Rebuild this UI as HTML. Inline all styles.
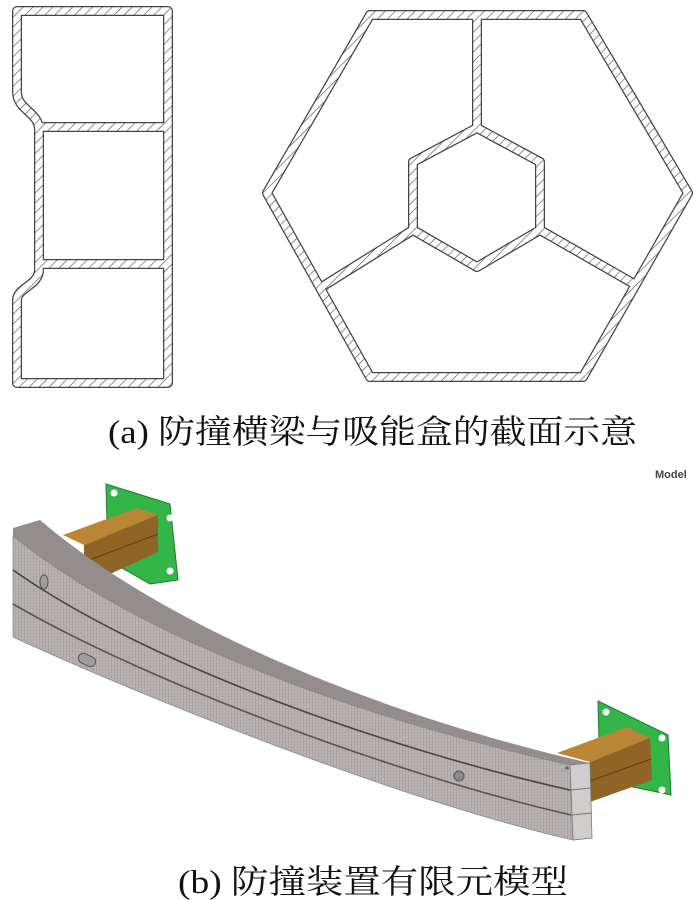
<!DOCTYPE html>
<html><head><meta charset="utf-8"><style>
html,body{margin:0;padding:0;background:#fff;}
svg{display:block}
</style></head><body>
<svg width="700" height="900" viewBox="0 0 700 900" xmlns="http://www.w3.org/2000/svg">
<defs>
<pattern id="h" patternUnits="userSpaceOnUse" width="7" height="7" patternTransform="rotate(45)">
<rect width="7" height="7" fill="#fff"/><line x1="0" y1="0" x2="0" y2="7" stroke="#555" stroke-width="1.3"/>
</pattern>
<pattern id="mesh" patternUnits="userSpaceOnUse" width="3" height="3">
<rect width="3" height="3" fill="#b9b3b3"/><line x1="0" y1="0" x2="0" y2="3" stroke="#8f8888" stroke-width="0.7"/><line x1="0" y1="0" x2="3" y2="0" stroke="#a29b9b" stroke-width="0.5"/>
</pattern>
</defs>

<g fill="none" stroke-linejoin="round">
<g stroke="#444" stroke-width="10">
<path d="M17,11 H168 V383 H17 V300 C17,288 39,285 39,270 V130 C39,112 17,110 17,92 Z"/>
<path d="M39,127 H168 M39,264 H168"/>
</g>
<g stroke="url(#h)" stroke-width="7.5">
<path d="M17,11 H168 V383 H17 V300 C17,288 39,285 39,270 V130 C39,112 17,110 17,92 Z"/>
<path d="M39,127 H168 M39,264 H168"/>
</g>
</g>

<g fill="none" stroke-linejoin="round">
<g stroke="#444" stroke-width="10">
<polygon points="370,15 583,15 688,193 583,377 370,377 267,193"/>
<polygon points="477,128 540,162 540,230 477,267 413,230 413,162"/>
<path d="M477,15 V128 M413,230 L320,288 M540,230 L636,285"/>
</g>
<g stroke="url(#h)" stroke-width="7.5">
<polygon points="370,15 583,15 688,193 583,377 370,377 267,193"/>
<polygon points="477,128 540,162 540,230 477,267 413,230 413,162"/>
<path d="M477,15 V128 M413,230 L320,288 M540,230 L636,285"/>
</g>
</g>

<text x="108" y="443" font-family="Liberation Serif, Noto Serif CJK SC, serif" font-size="33" fill="#111" textLength="529" lengthAdjust="spacingAndGlyphs">(a) 防撞横梁与吸能盒的截面示意</text>

<text x="655" y="478" font-family="Liberation Sans, sans-serif" font-size="11" font-weight="bold" fill="#444">Model</text>

<polygon points="106,484 170,504 178,580 150,584 108,560" fill="#33b54a" stroke="#1e7a2c" stroke-width="1"/>
<circle cx="114" cy="493" r="3.5" fill="#fff"/><circle cx="170" cy="518" r="3.5" fill="#fff"/><circle cx="170" cy="571" r="3.5" fill="#fff"/>
<polygon points="63,535 137,508 158,515 84,545" fill="#b98636"/>
<polygon points="84,545 158,515 158,552 110,574 84,580" fill="#8f6424"/>
<line x1="84" y1="562" x2="158" y2="534" stroke="#5e3f14" stroke-width="1"/>

<polygon points="598,701 668,735 671,795 600,780" fill="#33b54a" stroke="#1e7a2c" stroke-width="1"/>
<circle cx="606" cy="712" r="3.5" fill="#fff"/><circle cx="662" cy="738" r="3.5" fill="#fff"/><circle cx="662" cy="790" r="3.5" fill="#fff"/>
<polygon points="557,753 627,727 650,738 590,762" fill="#b98636"/>
<polygon points="590,762 650,738 652,780 590,802" fill="#8f6424"/>
<line x1="590" y1="781" x2="651" y2="759" stroke="#5e3f14" stroke-width="1"/>

<!-- beam top face -->
<path d="M13,528 L40,520 C180,640 420,725 590,763 L570,765 C400,728 153,650 13,536 Z" fill="#958d8d"/>
<!-- beam front face -->
<path d="M13,536 C153,650 400,728 570,765 L573,840 C400,800 150,700 13,637 Z" fill="url(#mesh)" stroke="#888" stroke-width="0.8"/>
<path d="M13,570 C152,668 400,752 570,790" fill="none" stroke="#4a4444" stroke-width="1.6"/>
<path d="M13,604 C151,684 400,776 571,815" fill="none" stroke="#5a5454" stroke-width="1.6"/>
<polygon points="570,765 590,763 592,838 573,840" fill="#d2cdcd" stroke="#777" stroke-width="0.8"/>
<line x1="570" y1="790" x2="591" y2="788" stroke="#777"/><line x1="571" y1="815" x2="592" y2="813" stroke="#777"/>
<ellipse cx="44" cy="582" rx="4" ry="7" fill="#a39c9c" stroke="#555" stroke-width="1"/>
<rect x="78" y="655" width="18" height="10" rx="5" transform="rotate(25 87 660)" fill="#a39c9c" stroke="#555" stroke-width="1"/>
<circle cx="459" cy="776" r="5" fill="#8f8888" stroke="#555" stroke-width="1"/>
<circle cx="567" cy="768" r="1.8" fill="#666"/>

<text x="178" y="893" font-family="Liberation Serif, Noto Serif CJK SC, serif" font-size="33" fill="#111" textLength="390" lengthAdjust="spacingAndGlyphs">(b) 防撞装置有限元模型</text>
</svg>
</body></html>
